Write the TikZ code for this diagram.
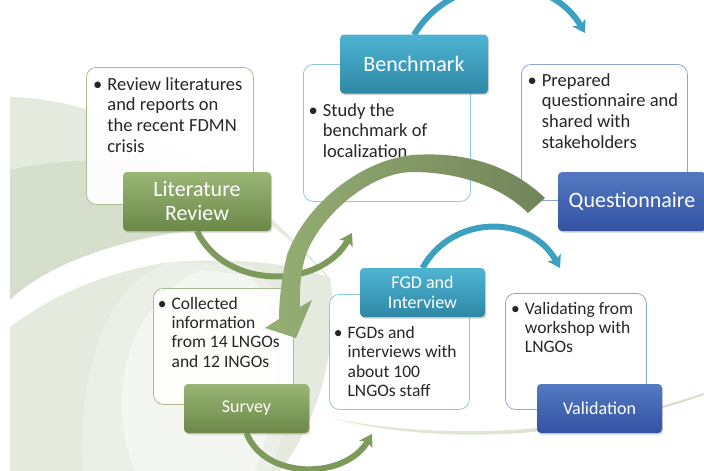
\documentclass[tikz,border=0pt]{standalone}
\usepackage{fontspec}
\setmainfont{Carlito}
\usetikzlibrary{positioning,shadows,arrows.meta}
\tikzset{>={Stealth[length=12pt,width=15pt,inset=3pt]}}

\definecolor{ink}{HTML}{262626}
\definecolor{leaftop}{HTML}{9AB677}
\definecolor{leafbot}{HTML}{6C8849}
\definecolor{leafline}{HTML}{A9BC8E}
\definecolor{leafarc}{HTML}{7D9A5A}
\definecolor{seatop}{HTML}{4FB4D3}
\definecolor{seabot}{HTML}{2E88A5}
\definecolor{sealine}{HTML}{8CC9DE}
\definecolor{seaarc}{HTML}{3DA0C0}
\definecolor{navytop}{HTML}{5479C1}
\definecolor{navybot}{HTML}{3352A2}
\definecolor{navyline}{HTML}{8FA5D8}
\definecolor{swirlA}{HTML}{E5EADE}
\definecolor{swirlB}{HTML}{D6DECC}
\definecolor{swirlC}{HTML}{ECEFE7}
\definecolor{swirlD}{HTML}{F4F6F1}
\definecolor{swoosh}{HTML}{A3B888}
\definecolor{bandlt}{HTML}{95AF73}
\definecolor{banddk}{HTML}{72845A}

% bullet with its lines hanging after it
\newcommand{\pointlist}[1]{\begin{tabular}[t]{@{}l@{\hspace{5pt}}l@{}}#1\end{tabular}}

\begin{document}
\begin{tikzpicture}[x=1pt, y=-1pt,
    note/.style={draw, rounded corners=10pt, fill=white, fill opacity=.92, line width=.8pt, anchor=north west, inner sep=0pt},
    pts/.style={inner sep=0pt, text=ink, font=\fontsize{18.5}{20.7}\selectfont},
    smallpts/.style={pts, font=\fontsize{17.5}{19.3}\selectfont},
    tab/.style={rounded corners=4pt, text=white, align=center, inner sep=0pt,
        drop shadow={shadow xshift=1.2pt, shadow yshift=-1.6pt, opacity=.35}},
    bigtab/.style={tab, minimum width=148pt, minimum height=59pt, font=\fontsize{22}{24}\selectfont},
    smalltab/.style={tab, minimum width=125pt, minimum height=49pt, font=\fontsize{18}{20}\selectfont},
    leaf/.style={top color=leaftop, bottom color=leafbot},
    sea/.style={top color=seatop, bottom color=seabot},
    navy/.style={top color=navytop, bottom color=navybot},
    arc/.style={line width=6pt, ->}]

\useasboundingbox (0,0) rectangle (704,471);
\clip (0,0) rectangle (704,471);

% swirl in the background
\fill[swirlA] (10,97) .. controls (110,98) and (230,165) .. (330,278) .. controls (340,340) and (320,420) .. (280,471) -- (10,471) -- cycle;
\fill[swirlB] (10,170) .. controls (90,152) and (200,158) .. (265,205) -- (265,222) .. controls (170,225) and (60,252) .. (10,300) -- cycle;
\fill[white] (10,300) .. controls (60,252) and (170,225) .. (272,226) .. controls (290,240) and (310,258) .. (325,276) .. controls (290,262) and (230,258) .. (170,262) .. controls (100,272) and (45,300) .. (10,327) -- cycle;
\fill[swirlC] (170,262) .. controls (105,285) and (78,370) .. (83,471) -- (270,471) .. controls (300,400) and (300,300) .. (250,265) -- cycle;
\fill[swirlD] (200,270) .. controls (125,305) and (105,400) .. (135,471) -- (255,471) .. controls (285,400) and (280,310) .. (250,275) -- cycle;
\shade[left color=white!70!swoosh, middle color=swoosh, right color=white!55!swoosh]
    (330,418) .. controls (420,436) and (560,442) .. (704,393)
    -- (704,395) .. controls (560,446) and (420,441) .. (330,418) -- cycle;

% boxes with the notes
\node[note, draw=leafline, minimum width=167pt, minimum height=137pt] (litT) at (86,67) {};
\node[note, draw=sealine, minimum width=167pt, minimum height=137pt] (benchT) at (303,64) {};
\node[note, draw=navyline, minimum width=166pt, minimum height=136pt] (questT) at (521,64) {};
\node[note, draw=leafline, minimum width=140pt, minimum height=116pt] (survT) at (153,288) {};
\node[note, draw=sealine, minimum width=140pt, minimum height=115pt] (fgdT) at (329,294) {};
\node[note, draw=navyline, minimum width=141pt, minimum height=116pt] (valT) at (505,293) {};

\node[pts, below right=8.5pt and 7pt of litT.north west] (litP)
    {\pointlist{\textbullet & Review literatures\\ & and reports on\\ & the recent FDMN\\ & crisis}};
\node[pts, below right=37.5pt and 5.5pt of benchT.north west] (benchP)
    {\pointlist{\textbullet & Study the\\ & benchmark of\\ & localization}};
\node[pts, below right=7.5pt and 6.5pt of questT.north west] (questP)
    {\pointlist{\textbullet & Prepared\\ & questionnaire and\\ & shared with\\ & stakeholders}};
\node[smallpts, below right=7.5pt and 4.7pt of survT.north west] (survP)
    {\pointlist{\textbullet & Collected\\ & information\\ & from 14 LNGOs\\ & and 12 INGOs}};
\node[smallpts, below right=30.8pt and 4.7pt of fgdT.north west] (fgdP)
    {\pointlist{\textbullet & FGDs and\\ & interviews with\\ & about 100\\ & LNGOs staff}};
\node[smallpts, below right=7.5pt and 6pt of valT.north west] (valP)
    {\pointlist{\textbullet & Validating from\\ & workshop with\\ & LNGOs}};

% arcs from step to step
\coordinate (questIn) at (585,33);
\coordinate (valIn) at (560,268);
\coordinate (benchIn) at (352,233);
\coordinate (fgdIn) at (372,434);
\draw[arc, seaarc] (414,35) .. controls +(38,-64) and +(-37,-63) .. (questIn);
\draw[arc, seaarc] (422.5,268) .. controls +(30,-54) and +(-30,-54) .. (valIn);
\draw[arc, leafarc] (197,231) .. controls +(28,59) and +(-32,57) .. (benchIn);
\draw[arc, leafarc] (246.5,433) .. controls +(18,47) and +(-27,46) .. (fgdIn);

% the wide arrow back down to the survey
\shade[left color=bandlt, right color=banddk]
    (545,198) .. controls (505,160) and (455,152) .. (413,155)
    .. controls (360,160) and (305,205) .. (287,255)
    .. controls (282,275) and (279,300) .. (279,319)
    -- (265,328) -- (296,338) -- (312,300) -- (300,307)
    .. controls (299,285) and (302,265) .. (307,252)
    .. controls (322,215) and (370,172) .. (413,172)
    .. controls (455,172) and (500,185) .. (528,213) -- cycle;

% step labels
\node[bigtab, leaf] (litL) at (197,201.5) {Literature\\Review};
\node[bigtab, sea] (benchL) at (414,64) {Benchmark};
\node[bigtab, navy] (questL) at (632,201.5) {Questionnaire};
\node[smalltab, leaf] (survL) at (246.5,408.5) {Survey};
\node[smalltab, sea] (fgdL) at (422.5,292.5) {FGD and\\Interview};
\node[smalltab, navy] (valL) at (599.5,408.5) {Validation};
\end{tikzpicture}
\end{document}
